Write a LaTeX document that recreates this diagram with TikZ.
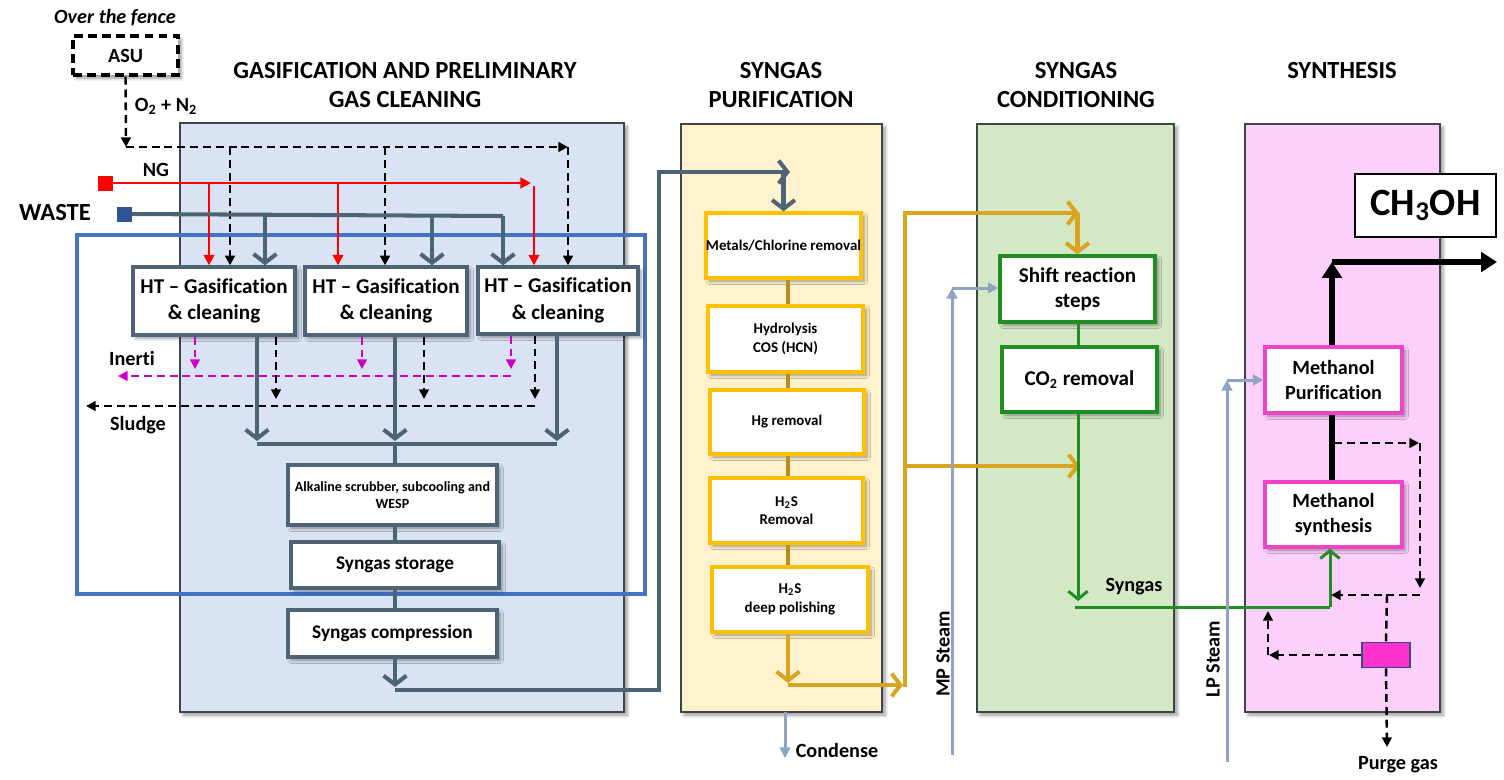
\documentclass[tikz,border=0pt]{standalone}
\usepackage{fontspec}
\setmainfont{Carlito}[Ligatures=NoCommon]
\usetikzlibrary{arrows.meta,shadows.blur,fit}
\definecolor{slate}{HTML}{4D6476}
\definecolor{panelline}{HTML}{3F4448}
\definecolor{gasfill}{HTML}{DAE3F3}
\definecolor{purfill}{HTML}{FFF2CC}
\definecolor{condfill}{HTML}{D5E8C6}
\definecolor{synfill}{HTML}{FDD0FB}
\definecolor{frameblue}{HTML}{4472C4}
\definecolor{goldbox}{HTML}{FFC000}
\definecolor{goldline}{HTML}{D9A520}
\definecolor{goldlink}{HTML}{B58E1E}
\definecolor{grn}{HTML}{1F8F24}
\definecolor{magbox}{HTML}{F044C8}
\definecolor{magdash}{HTML}{CC00CC}
\definecolor{steam}{HTML}{8EA4C2}
\definecolor{navysq}{HTML}{2F5597}
\definecolor{smallbox}{HTML}{FF33CC}
\definecolor{smallline}{HTML}{3A4A8A}
\tikzset{
  sz/.style 2 args={minimum width=#1*0.02cm, minimum height=#2*0.02cm},
  shad/.style={blur shadow={shadow xshift=1.8pt, shadow yshift=-1.8pt, shadow blur steps=6, shadow opacity=40}},
  panel/.style={draw=panelline, line width=0.9pt, inner sep=0pt, shad},
  box/.style={fill=white, inner sep=0pt, align=center, shad},
  slatebox/.style={box, draw=slate, line width=1.9pt},
  goldbx/.style={box, draw=goldbox, line width=1.9pt, font=\bfseries\fontsize{8.5}{10.5}\selectfont},
  greenbx/.style={box, draw=grn, line width=1.9pt, font=\bfseries\fontsize{12}{14.5}\selectfont},
  magbx/.style={box, draw=magbox, line width=1.9pt, font=\bfseries\fontsize{11.5}{14}\selectfont},
  lbl/.style={font=\bfseries\fontsize{11.5}{13}\selectfont, inner sep=1pt},
  ttl/.style={font=\bfseries\fontsize{14}{17}\selectfont, align=center},
  slateflow/.style={draw=slate, line width=2.3pt},
  slatearr/.style={slateflow, -{Straight Barb[length=5pt,width=13pt]}},
  goldflow/.style={draw=goldline, line width=2.3pt},
  goldarr/.style={goldflow, -{Straight Barb[length=5pt,width=13pt]}},
  goldlk/.style={draw=goldlink, line width=2.3pt},
  grnflow/.style={draw=grn, line width=1.7pt},
  grnarr/.style={grnflow, -{Straight Barb[length=4.5pt,width=11pt]}},
  redarr/.style={draw=red, line width=1.4pt, -{Triangle[length=6pt,width=6pt]}},
  kdashplain/.style={draw=black, line width=1.4pt, dash pattern=on 4.5pt off 2.8pt},
  kdash/.style={kdashplain, -{Triangle[length=5.5pt,width=5.5pt]}},
  mdash/.style={draw=magdash, line width=1.4pt, dash pattern=on 4.5pt off 2.8pt, -{Triangle[length=5.5pt,width=5.5pt]}},
  steamarr/.style={draw=steam, line width=1.7pt, -{Triangle[length=6pt,width=6pt]}},
  thickline/.style={draw=black, line width=3.8pt},
  thickarr/.style={thickline, -{Triangle[length=9pt,width=11pt]}},
}
\begin{document}
\begin{tikzpicture}[x=0.02cm,y=-0.02cm]
\useasboundingbox (0,0) rectangle (1504,779);
% panels
\node[panel, fill=gasfill, fit={(180,123)(624,712)}] (gas) {};
\node[panel, fill=purfill, fit={(681,124)(882,712)}] (pur) {};
\node[panel, fill=condfill, fit={(977,124)(1174,712)}] (cond) {};
\node[panel, fill=synfill, fit={(1245,124)(1440,712)}] (syn) {};
% titles
\node[ttl] (t1) at (405,85) {GASIFICATION AND PRELIMINARY\\GAS CLEANING};
\node[ttl] (t2) at (781,85) {SYNGAS\\PURIFICATION};
\node[ttl] (t3) at (1076,85) {SYNGAS\\CONDITIONING};
\node[ttl] (t4) at (1342,71) {SYNTHESIS};
% blue frame
\node[draw=frameblue, line width=2.4pt, inner sep=0pt, fit={(77,235)(645,594)}] (frame) {};
% over the fence
\node[font=\bfseries\itshape\fontsize{11.5}{13}\selectfont] (fence) at (115,18) {Over the fence};
\node[box, draw=black, line width=1.9pt, dash pattern=on 5pt off 3pt, sz={105}{39}, font=\bfseries\fontsize{11.5}{13}\selectfont] (ASU) at (125.5,55.5) {ASU};
\node[lbl] (o2lbl) at (166,106) {O\textsubscript{2} + N\textsubscript{2}};
% feeds
\node[fill=red, minimum size=0.3cm, inner sep=0pt] (NGsq) at (105,183) {};
\node[lbl] (nglbl) at (156,170) {NG};
\node[fill=navysq, minimum size=0.3cm, inner sep=0pt] (Wsq) at (124,214) {};
\node[font=\bfseries\fontsize{14}{16}\selectfont] (wlbl) at (55,213) {WASTE};
% gasification boxes
\begin{scope}[every node/.append style={font=\bfseries\fontsize{12}{15}\selectfont}]
\node[slatebox, sz={162}{68}] (HT1) at (214,301) {HT – Gasification\\\& cleaning};
\node[slatebox, sz={162}{68}] (HT2) at (386,301) {HT – Gasification\\\& cleaning};
\node[slatebox, sz={160}{67}] (HT3) at (558,300.5) {HT – Gasification\\\& cleaning};
\end{scope}
\node[slatebox, sz={209}{60}, font=\bfseries\fontsize{8}{10}\selectfont] (Alk) at (392.5,495) {Alkaline scrubber, subcooling and\\WESP};
\node[slatebox, sz={208}{46}, font=\bfseries\fontsize{11}{13}\selectfont] (Stor) at (395,565) {Syngas storage};
\node[slatebox, sz={209}{47}, font=\bfseries\fontsize{11}{13}\selectfont] (Comp) at (392.5,633.5) {Syngas compression};
% ASU / O2 distribution
\coordinate (o2) at (126,147);
\coordinate (o2a) at (230,147);
\coordinate (o2b) at (385,147);
\coordinate (o2c) at (568,147);
\draw[kdash] (ASU.south) -- (o2);
\draw[kdash] (o2) -- (o2c);
\draw[kdash] (o2a) -- (o2a |- HT1.north);
\draw[kdash] (o2b) -- (o2b |- HT2.north);
\draw[kdash] (o2c) -- (o2c |- HT3.north);
% NG distribution
\coordinate (nga) at (209,183);
\coordinate (ngb) at (338,183);
\coordinate (ngc) at (531,183);
\coordinate (ngd) at (534,186);
\draw[redarr] (NGsq.east) -- (ngc);
\draw[redarr] (nga) -- (nga |- HT1.north);
\draw[redarr] (ngb) -- (ngb |- HT2.north);
\draw[redarr] (ngd) -- (ngd |- HT3.north);
% waste distribution
\coordinate (wa) at (265,216);
\coordinate (wb) at (432,216);
\coordinate (wc) at (503,216);
\draw[slateflow] (Wsq.east) -- (wc);
\draw[slatearr] (wa) -- (wa |- HT1.north);
\draw[slatearr] (wb) -- (wb |- HT2.north);
\draw[slatearr] (wc) -- (wc |- HT3.north);
% inerti
\coordinate (m1) at (195,369);
\coordinate (m2) at (362,369);
\coordinate (m3) at (511,369);
\coordinate (mc) at (511,376);
\coordinate (mend) at (118,376);
\draw[mdash] (m1 |- HT1.south) -- (m1);
\draw[mdash] (m2 |- HT2.south) -- (m2);
\draw[mdash] (m3 |- HT3.south) -- (m3);
\draw[mdash] (mc) -- (mend);
\node[lbl] (inerti) at (132,358) {Inerti};
% sludge
\coordinate (k1) at (276,399);
\coordinate (k2) at (424,399);
\coordinate (k3) at (535,399);
\coordinate (kc) at (535,406);
\coordinate (kend) at (86,406);
\draw[kdash] (k1 |- HT1.south) -- (k1);
\draw[kdash] (k2 |- HT2.south) -- (k2);
\draw[kdash] (k3 |- HT3.south) -- (k3);
\draw[kdash] (kc) -- (kend);
\node[lbl] (sludge) at (138,425) {Sludge};
% gas collection
\coordinate (s1) at (257,441);
\coordinate (s2) at (395,441);
\coordinate (s3) at (557,441);
\coordinate (h1) at (257,444);
\coordinate (h2) at (395,444);
\coordinate (h3) at (557,444);
\draw[slatearr] (s1 |- HT1.south) -- (s1);
\draw[slatearr] (s2 |- HT2.south) -- (s2);
\draw[slatearr] (s3 |- HT3.south) -- (s3);
\draw[slateflow] (h1) -- (h3);
\draw[slateflow] (h2) -- (h2 |- Alk.north);
\draw[slateflow] (h2 |- Alk.south) -- (h2 |- Stor.north);
\draw[slateflow] (h2 |- Stor.south) -- (h2 |- Comp.north);
% to purification
\coordinate (c1) at (395,687);
\coordinate (c2) at (395,690);
\coordinate (c3) at (659,690);
\coordinate (c4) at (659,172);
\coordinate (c5) at (790,172);
\draw[slatearr] (h2 |- Comp.south) -- (c1);
\draw[slatearr] (c2) -- (c3) -- (c4) -- (c5);
% purification boxes
\node[goldbx, sz={155}{65}] (Met) at (783.5,245.5) {Metals/Chlorine removal};
\node[goldbx, sz={155}{66}] (Hyd) at (785.5,339) {Hydrolysis\\COS (HCN)};
\node[goldbx, sz={154}{64}] (Hg) at (787,422) {Hg removal};
\node[goldbx, sz={153}{65}] (HS) at (786.5,510.5) {H\textsubscript{2}S\\Removal};
\node[goldbx, sz={156}{65}] (Deep) at (790,599.5) {H\textsubscript{2}S\\deep polishing};
\draw[slatearr] (c5 -| Met.north) -- (Met.north);
\coordinate (gx) at (788,0);
\draw[goldlk] (gx |- Met.south) -- (gx |- Hyd.north);
\draw[goldlk] (gx |- Hyd.south) -- (gx |- Hg.north);
\draw[goldlk] (gx |- Hg.south) -- (gx |- HS.north);
\draw[goldlk] (gx |- HS.south) -- (gx |- Deep.north);
\coordinate (g1) at (788,683);
\coordinate (g2) at (788,685);
\coordinate (g3) at (903,685);
\coordinate (g4) at (905,687);
\coordinate (g5) at (905,213);
\coordinate (g6) at (1079,213);
\coordinate (g7) at (905,466);
\coordinate (g8) at (1080,466);
\draw[goldarr] (gx |- Deep.south) -- (g1);
\draw[goldarr] (g2) -- (g3);
\draw[goldarr] (g4) -- (g5) -- (g6);
\draw[goldarr] (g7) -- (g8);
% condense
\coordinate (cd1) at (785,712);
\coordinate (cd2) at (785,758);
\draw[steamarr] (cd1) -- (cd2);
\node[lbl] (condense) at (837,750) {Condense};
% conditioning
\node[greenbx, sz={155}{66}] (Shift) at (1077.5,289) {Shift reaction\\steps};
\node[greenbx, sz={155}{65}] (CO2) at (1079.5,379.5) {CO\textsubscript{2} removal};
\draw[goldarr] (g6 -| Shift.north) -- (Shift.north);
\coordinate (gr) at (1078,0);
\draw[grnflow] (gr |- Shift.south) -- (gr |- CO2.north);
\coordinate (gr1) at (1078,601);
\coordinate (gr2) at (1075,607);
\coordinate (gr3) at (1330,607);
\draw[grnarr] (gr |- CO2.south) -- (gr1);
\node[lbl] (syngas) at (1134,587) {Syngas};
% MP steam
\coordinate (mp1) at (952,755);
\coordinate (mp2) at (952,288);
\draw[steamarr] (mp1) -- (mp2);
\draw[steamarr] (mp2) -- (mp2 -| Shift.west);
\node[lbl, rotate=90] (mplbl) at (943,654) {MP Steam};
% synthesis
\node[draw=black, line width=1.3pt, fill=white, inner sep=0pt, sz={141}{63}, font=\bfseries\fontsize{22}{26}\selectfont] (meoh) at (1425.5,205.5) {CH\textsubscript{3}OH};
\node[magbx, sz={137}{66}] (MPur) at (1333.5,380) {Methanol\\Purification};
\node[magbx, sz={137}{65}] (MSyn) at (1333.5,514.5) {Methanol\\synthesis};
\node[fill=smallbox, draw=smallline, line width=1pt, inner sep=0pt, sz={48}{25}] (purge) at (1386,655) {};
\draw[grnflow] (gr2) -- (gr3);
\draw[grnarr] (gr3) -- (gr3 |- MSyn.south);
\coordinate (bx) at (1332,0);
\coordinate (b1) at (1332,262);
\coordinate (b2) at (1497,262);
\draw[thickline] (bx |- MSyn.north) -- (bx |- MPur.south);
\draw[thickarr] (bx |- MPur.north) -- (b1);
\draw[thickarr] (b1) -- (b2);
% LP steam
\coordinate (lp1) at (1227,762);
\coordinate (lp2) at (1227,380);
\draw[steamarr] (lp1) -- (lp2);
\draw[steamarr] (lp2) -- (MPur.west);
\node[lbl, rotate=90] (lplbl) at (1213,659) {LP Steam};
% recycle loop
\coordinate (r1) at (1334,443);
\coordinate (r2) at (1419,443);
\coordinate (r3) at (1420,443);
\coordinate (r4) at (1420,588);
\coordinate (r5) at (1420,595);
\coordinate (r6) at (1331,595);
\coordinate (r7) at (1387,595);
\coordinate (r8) at (1269,655);
\coordinate (r9) at (1268,655);
\coordinate (r10) at (1268,611);
\coordinate (r11) at (1387,747);
\draw[kdash] (r1) -- (r2);
\draw[kdash] (r3) -- (r4);
\draw[kdash] (r5) -- (r6);
\draw[kdashplain] (r7) -- (purge.north);
\draw[kdash] (purge.west) -- (r8);
\draw[kdash] (r9) -- (r10);
\draw[kdash] (purge.south) -- (r11);
\node[lbl] (purgelbl) at (1398,765) {Purge gas};
\end{tikzpicture}
\end{document}
